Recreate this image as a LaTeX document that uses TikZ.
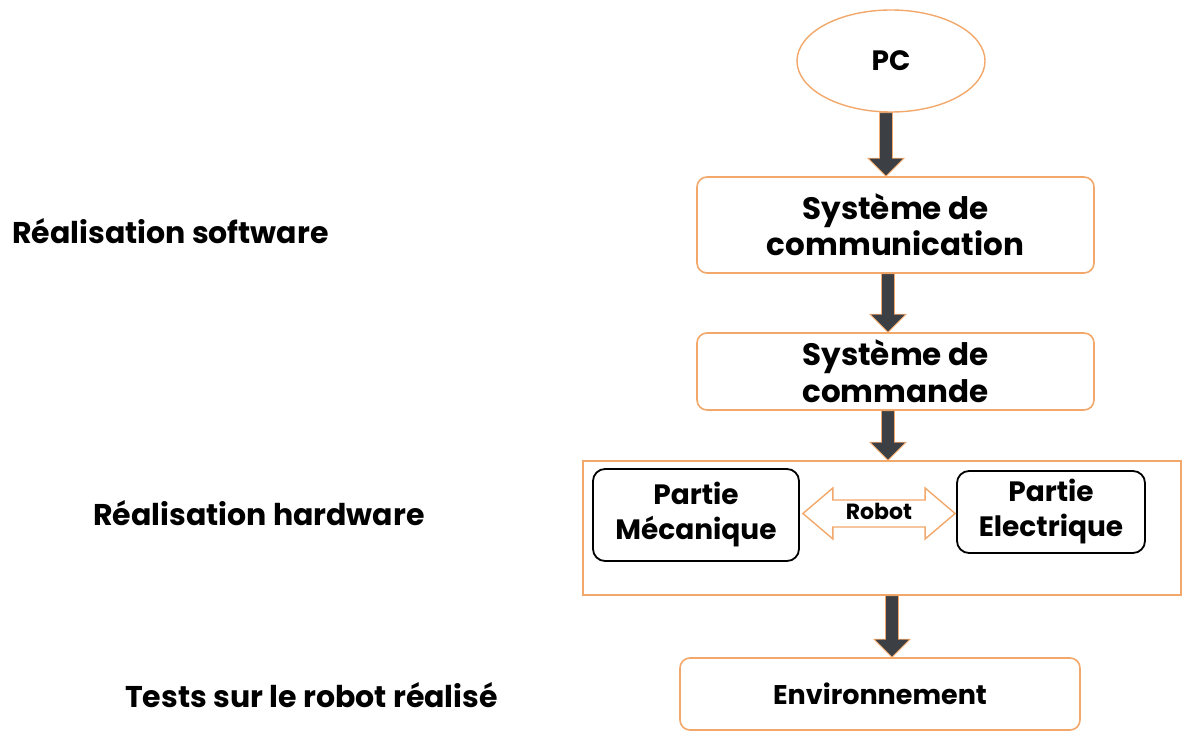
\documentclass[tikz,border=0pt]{standalone}
\usepackage{fontspec}
\setmainfont{Poppins}
\usetikzlibrary{calc,shapes.geometric}
\definecolor{orng}{HTML}{F2A86A}
\definecolor{darr}{HTML}{3C3F44}
\newcommand{\downarr}[3]{%
  \path[fill=darr, draw=orng, line width=0.8pt] let \p1=($(#1.south)+(#3,0)$), \p2=(#2.north) in
    (\x1-6.5pt,\y1) -- (\x1+6.5pt,\y1) -- (\x1+6.5pt,\y2+18pt) -- (\x1+18pt,\y2+18pt) -- (\x1,\y2)
    -- (\x1-18pt,\y2+18pt) -- (\x1-6.5pt,\y2+18pt) -- cycle;}
\begin{document}
\begin{tikzpicture}[x=1pt,y=-1pt,
  obox/.style={draw=orng, line width=1.6pt, rounded corners=10pt, fill=white, align=center, inner sep=0pt,
    font=\bfseries\fontsize{31}{36}\selectfont},
  bbox/.style={draw=black, line width=1.8pt, rounded corners=12pt, fill=white, align=center, inner sep=0pt,
    font=\bfseries\fontsize{28}{35}\selectfont},
  lbl/.style={font=\bfseries\fontsize{30}{34}\selectfont, anchor=base west, inner sep=0pt}
]
\useasboundingbox (0,0) rectangle (1184,733);
% left labels
\node[lbl] (sw) at (12,243) {Réalisation software};
\node[lbl] (hw) at (93,525) {Réalisation hardware};
\node[lbl] (ts) at (125,707) {Tests sur le robot réalisé};
% flow
\node[ellipse, draw=orng, line width=1.4pt, minimum width=188pt, minimum height=102pt, inner sep=0pt,
  font=\bfseries\fontsize{28}{32}\selectfont] (pc) at (891,61) {PC};
\node[obox, minimum width=397pt, minimum height=96pt] (com) at (895.5,225) {Système de\\communication};
\node[obox, minimum width=397pt, minimum height=77pt, font=\bfseries\fontsize{31}{37}\selectfont] (cmd) at (895.5,371.5) {Système de\\commande};
\node[draw=orng, line width=1.6pt, minimum width=598pt, minimum height=134pt, inner sep=0pt] (rob) at (882,528) {};
\node[bbox, minimum width=206pt, minimum height=92pt] (mec) at (696,515) {Partie\\Mécanique};
\node[bbox, minimum width=188pt, minimum height=82pt] (ele) at (1051,512) {Partie\\Electrique};
\node[obox, minimum width=400pt, minimum height=72pt, font=\bfseries\fontsize{27}{30}\selectfont] (env) at (880,694) {Environnement};
% arrows
\downarr{pc}{com}{-5}
\downarr{com}{cmd}{-7.5}
\downarr{cmd}{rob}{-7.5}
\downarr{rob}{env}{10}
% double arrow
\path[fill=white, draw=orng, line width=1.4pt] let \p1=(mec.east), \p2=(ele.west), \p3=($(mec.east)!0.5!(ele.west)$) in
  (\x1+3pt,\y3) -- (\x1+33pt,\y3+25.5pt) -- (\x1+33pt,\y3+13.5pt) -- (\x2-31pt,\y3+13.5pt) -- (\x2-31pt,\y3+25.5pt)
  -- (\x2-1pt,\y3) -- (\x2-31pt,\y3-25.5pt) -- (\x2-31pt,\y3-13.5pt) -- (\x1+33pt,\y3-13.5pt) -- (\x1+33pt,\y3-25.5pt) -- cycle;
\node[font=\bfseries\fontsize{22}{26}\selectfont, inner sep=0pt] (rt) at (879,511) {Robot};
\end{tikzpicture}
\end{document}
